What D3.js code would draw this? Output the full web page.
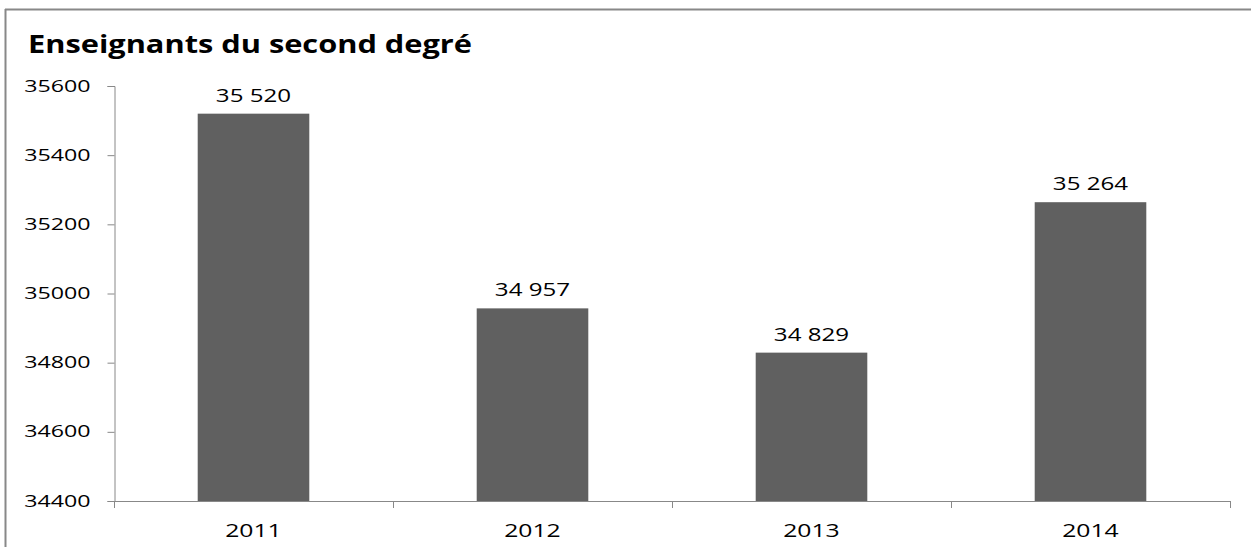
<!DOCTYPE html>
<html><head><meta charset="utf-8">
<script src="https://cdn.jsdelivr.net/npm/d3@7"></script>
<style>body{margin:0;background:#fff}svg{display:block}</style>
</head><body>
<svg id="c" width="1251" height="547"></svg>
<script>
const categories = ["2011", "2012", "2013", "2014"];
const values = [35520, 34957, 34829, 35264];
const valueLabels = ["35 520", "34 957", "34 829", "35 264"];
const yTicks = [34400, 34600, 34800, 35000, 35200, 35400, 35600];
const title = "Enseignants du second degré";

const svg = d3.select("#c");
const font = "'Open Sans', 'Liberation Sans', sans-serif";
function stretch(sel, f) {
  sel.each(function () {
    const w = this.getComputedTextLength();
    d3.select(this).attr("textLength", w * f).attr("lengthAdjust", "spacingAndGlyphs");
  });
}
// frame
svg.append("line").attr("x1",5).attr("x2",1251).attr("y1",9.5).attr("y2",9.5).attr("stroke","#888").attr("stroke-width",2);
svg.append("line").attr("x1",5.5).attr("x2",5.5).attr("y1",9).attr("y2",547).attr("stroke","#888").attr("stroke-width",2);

svg.append("text").attr("x",28).attr("y",53).text(title)
  .attr("font-family",font).attr("font-weight","bold").attr("font-size",25).attr("fill","#000")
  .call(stretch, 1.23);

const x = d3.scaleBand().domain(categories).range([114,1230]).paddingInner(0.6).paddingOuter(0.3);
const y = d3.scaleLinear().domain([34400,35600]).range([501,86]);

const yAxis = d3.axisLeft(y).tickValues(yTicks).tickSize(7).tickFormat(d3.format("d"));
const gy = svg.append("g").attr("transform","translate(114.5,0)").call(yAxis);
gy.select(".domain").attr("stroke","#888");
gy.selectAll(".tick line").attr("stroke","#888");
gy.selectAll(".tick text").attr("font-family",font).attr("font-size",16).attr("fill","#000").attr("x",-24)
  .call(stretch, 1.45);

// bars
svg.selectAll("rect.bar").data(values).join("rect").attr("class","bar")
  .attr("x",(d,i)=>x(categories[i])).attr("width",x.bandwidth())
  .attr("y",d=>y(d)).attr("height",d=>y(34400)-y(d)).attr("fill","#606060");

svg.selectAll("text.vl").data(values).join("text").attr("class","vl")
  .attr("x",(d,i)=>x(categories[i])+x.bandwidth()/2).attr("y",d=>y(d)-12)
  .attr("text-anchor","middle").attr("font-family",font).attr("font-size",19).attr("fill","#000")
  .text((d,i)=>valueLabels[i]).call(stretch, 1.27);

// x axis
const xb = d3.scaleBand().domain(categories).range([114,1230]);
svg.append("line").attr("x1",114).attr("x2",1230).attr("y1",501.5).attr("y2",501.5).attr("stroke","#888");
const edges = categories.map(c=>xb(c)).concat([1230]);
svg.selectAll("line.xt").data(edges).join("line").attr("class","xt")
  .attr("x1",d=>d+0.5).attr("x2",d=>d+0.5).attr("y1",501).attr("y2",508).attr("stroke","#888");
svg.selectAll("text.xl").data(categories).join("text").attr("class","xl")
  .attr("x",d=>xb(d)+xb.bandwidth()/2).attr("y",537).attr("text-anchor","middle")
  .attr("font-family",font).attr("font-size",19).attr("fill","#000").text(d=>d)
  .call(stretch, 1.3);
</script>
</body></html>
